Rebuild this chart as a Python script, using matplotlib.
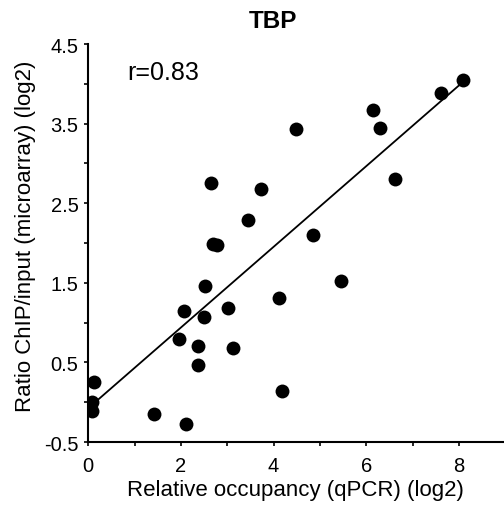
import numpy as np
import matplotlib
matplotlib.use("Agg")
import matplotlib.pyplot as plt

# relative occupancy (qPCR, log2) vs ratio ChIP/input (microarray, log2)
qpcr = [4.49, 2.66, 3.72, 3.45, 2.70, 2.77, 8.09, 7.62, 6.14, 6.29,
        6.62, 4.84, 2.53, 4.11, 2.07, 3.01, 2.50, 1.95, 2.37, 3.12,
        2.37, 0.13, 0.08, 0.08, 1.42, 2.11, 4.18, 5.46]
chip = [3.43, 2.75, 2.68, 2.29, 1.99, 1.97, 4.05, 3.89, 3.67, 3.45,
        2.81, 2.10, 1.46, 1.31, 1.15, 1.18, 1.07, 0.80, 0.71, 0.68,
        0.47, 0.26, 0.00, -0.11, -0.15, -0.27, 0.14, 1.52]
# regression line as drawn in the figure
fit_slope = 0.507
fit_icpt = -0.076
xticks = [0, 2, 4, 6, 8]
yticks = [-0.5, 0.5, 1.5, 2.5, 3.5, 4.5]

plt.rcParams['font.family'] = ['Liberation Sans', 'DejaVu Sans']

fig = plt.figure(figsize=(5.04, 5.06), dpi=100)
ax = fig.add_axes([0.175, 0.1245, 0.823, 0.7865])

x = np.array(qpcr)
y = np.array(chip)
ax.scatter(x, y, s=100, color='black', zorder=3, linewidths=0)

xs = np.array([x.min(), 8.0])
ax.plot(xs, fit_slope * xs + fit_icpt, color='black', lw=1.3)

ax.set_xlim(0, 8.95)
ax.set_ylim(-0.5, 4.5)
ax.set_xticks(xticks)
ax.set_xticks(np.arange(0, 9, 1), minor=True)
ax.set_yticks(yticks)
ax.set_yticks(np.arange(0, 4.5, 1), minor=True)
ax.tick_params(which='both', direction='out', length=3, width=1.2, labelsize=14.5)
ax.tick_params(axis='x', pad=7)
ax.tick_params(axis='y', pad=4)
ax.set_yticklabels([str(v) for v in yticks])

ax.spines['top'].set_visible(False)
ax.spines['right'].set_visible(False)
ax.spines['left'].set_linewidth(1.5)
ax.spines['bottom'].set_linewidth(1.5)

ax.set_xlabel('Relative occupancy (qPCR) (log2)', fontsize=16, labelpad=3)
ax.set_ylabel('Ratio ChIP/input (microarray) (log2)', fontsize=16)
ax.yaxis.set_label_coords(-0.125, 0.52)
ax.set_title('TBP', fontsize=17.5, fontweight='bold', x=0.445, pad=12)
ax.text(0.85, 4.15, 'r=0.83', fontsize=18, va='center')

fig.savefig('out.png', dpi=100)
